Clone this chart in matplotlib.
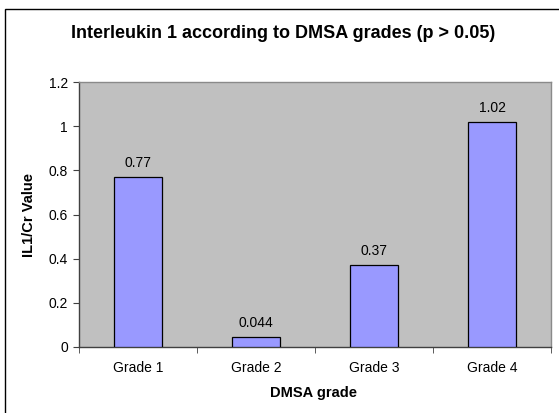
import matplotlib
matplotlib.use("Agg")
import matplotlib.pyplot as plt
from matplotlib.patches import Rectangle

categories = ["Grade 1", "Grade 2", "Grade 3", "Grade 4"]
values = [0.77, 0.044, 0.37, 1.02]
labels = ["0.77", "0.044", "0.37", "1.02"]
yticks = [0, 0.2, 0.4, 0.6, 0.8, 1, 1.2]
ytick_labels = ["0", "0.2", "0.4", "0.6", "0.8", "1", "1.2"]

plt.rcParams['font.family'] = ['Liberation Sans', 'DejaVu Sans']

W, H = 559, 413
fig = plt.figure(figsize=(W/100, H/100), dpi=100)
fig.patch.set_facecolor("white")

# outer chart frame
fig.patches.append(Rectangle((5/W, -0.05), 1.2, 1 - 9/H + 0.05, transform=fig.transFigure,
                             fill=False, edgecolor="black", linewidth=1.0))

L, R, T, B = 79, 551, 82, 347
ax = fig.add_axes([L/W, 1 - B/H, (R-L)/W, (B-T)/H])
ax.set_facecolor("#c0c0c0")
x = list(range(len(categories)))
ax.bar(x, values, width=0.41, color="#9999ff", edgecolor="black", linewidth=0.9, zorder=3)
for xi, v, lab in zip(x, values, labels):
    ax.annotate(lab, (xi, v), xytext=(0, 5), textcoords="offset points",
                ha="center", va="bottom", fontsize=10)

ax.set_xlim(-0.5, len(categories) - 0.5)
ax.set_ylim(0, 1.2)
ax.set_yticks(yticks)
ax.set_yticklabels(ytick_labels, fontsize=10)
ax.set_xticks(x)
ax.set_xticklabels(categories, fontsize=10)
ax.tick_params(axis="x", length=0, pad=10)
ax.set_xticks([i + 0.5 for i in range(-1, len(categories))], minor=True)
ax.tick_params(axis="x", which="minor", length=4, direction="out", color="#404040")
ax.tick_params(axis="y", length=4, direction="out", color="#404040", pad=4)
for s in ["top", "right"]:
    ax.spines[s].set_color("#8a8a8a")
    ax.spines[s].set_linewidth(1.0)
for s in ["left", "bottom"]:
    ax.spines[s].set_color("#404040")
    ax.spines[s].set_linewidth(1.0)

fig.text(283/W, 1 - 33/H, "Interleukin 1 according to DMSA grades (p > 0.05)",
         ha="center", va="center", fontsize=13, fontweight="bold")
fig.text(313/W, 1 - 393/H, "DMSA grade", ha="center", va="center", fontsize=10.5, fontweight="bold")
fig.text(29/W, 1 - 215/H, "IL1/Cr Value", ha="center", va="center", rotation=90,
         fontsize=10.5, fontweight="bold")

fig.savefig("out.png", dpi=100)
